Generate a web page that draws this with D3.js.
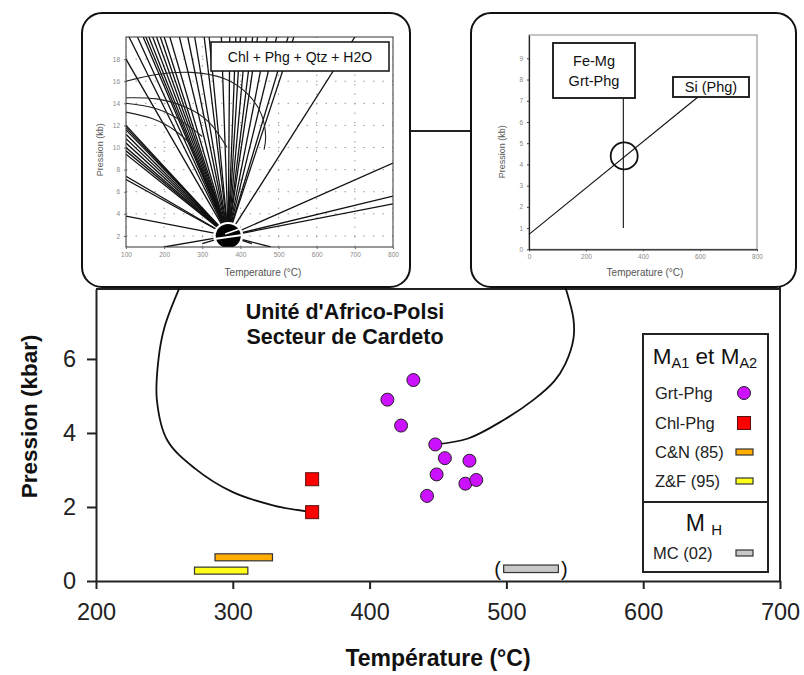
<!DOCTYPE html>
<html><head><meta charset="utf-8">
<script src="https://cdn.jsdelivr.net/npm/d3@7"></script>
<style>body{margin:0;background:#fff;} text{font-family:"Liberation Sans",Arial,Helvetica,sans-serif;}</style>
</head><body><svg id="c" width="804" height="675"></svg>
<script>
// ---------- main chart data ----------
const xTicks = [200, 300, 400, 500, 600, 700];
const yTicks = [0, 2, 4, 6];
const chlPhgT = [358, 358];
const chlPhgP = [2.75, 1.86];
const grtPhgT = [432, 413, 423, 448, 455, 473, 449, 470, 478, 442];
const grtPhgP = [5.43, 4.90, 4.20, 3.69, 3.32, 3.25, 2.88, 2.63, 2.73, 2.30];
const barNames = ["C&N (85)", "Z&F (95)", "MC (02)"];
const barTmin = [287, 272, 498];
const barTmax = [329, 311, 538];
const barP = [0.64, 0.28, 0.33];
const titleLines = ["Unité d'Africo-Polsi", "Secteur de Cardeto"];
// callout curves (T, P) linking insets to data points
const leftCurveT = [261, 250, 245.6, 244.5, 252, 272, 300, 330, 358];
const leftCurveP = [7.92, 6.85, 5.97, 4.89, 3.81, 3.05, 2.40, 2.04, 1.86];
const rightCurveT = [448, 472, 498, 520, 535, 543, 549, 549, 543];
const rightCurveP = [3.69, 3.85, 4.35, 4.90, 5.40, 5.86, 6.54, 7.08, 7.95];

// ---------- left inset data ----------
const in1TicksX = [100, 200, 300, 400, 500, 600, 700, 800];
const in1TicksY = [2, 4, 6, 8, 10, 12, 14, 16, 18];
const rayOrigin = [368, 2];
const rayEndT = [100, 100, 100, 100, 100, 100, 100, 100, 100, 100, 100, 100, 100,
  108, 130, 145, 152, 160, 170, 180, 190, 200, 215, 240, 262, 280, 305, 318,
  350, 372, 388, 400, 415, 432, 445, 470, 495, 525, 540, 700,
  800, 800, 800, 200, 300, 480, 430];
const rayEndP = [18, 12, 11.8, 11.6, 11.2, 10.8, 10.4, 10.0, 9.7, 9.4, 7.4, 7.1, 3.8,
  20, 20, 20, 20, 20, 20, 20, 20, 20, 20, 20, 20, 20, 20, 20,
  20, 20, 20, 20, 20, 20, 20, 20, 20, 20, 20, 20,
  8.6, 5.6, 4.9, 1, 1.3, 1, 1.3];
const arc1T = [100, 180, 270, 360, 420, 455, 466, 462];
const arc1P = [16, 16.6, 16.8, 16.2, 14.8, 13, 11, 9.8];
const arc2T = [100, 180, 260, 320, 365];
const arc2P = [14.5, 14.4, 13.6, 12.2, 10];
const arc3T = [100, 180, 250, 300];
const arc3P = [14, 13.5, 12.3, 11];
const arc4T = [100, 170, 230, 270];
const arc4P = [13.2, 12.6, 11.5, 10.3];
const in1Label = "Chl + Phg + Qtz + H2O";

// ---------- right inset data ----------
const in2TicksX = [0, 200, 400, 600, 800];
const in2TicksY = [0, 1, 2, 3, 4, 5, 6, 7, 8, 9];
const siT = [0, 595];
const siP = [0.7, 7.2];
const feMgT = [331, 331];
const feMgP = [1, 7.1];
const crossT = 334, crossP = 4.4;

const FONT = '"Liberation Sans",Arial,Helvetica,sans-serif';
const svg = d3.select("#c");
const x = d3.scaleLinear().domain([200, 700]).range([96, 780]);
const y = d3.scaleLinear().domain([0, 7.89]).range([581, 289]);

// ---------- main frame & axes ----------
svg.append("line").attr("x1", x(200)).attr("x2", x(700)).attr("y1", y(7.89)).attr("y2", y(7.89)).attr("stroke", "#222").attr("stroke-width", 2);
svg.append("line").attr("x1", x(700)).attr("x2", x(700)).attr("y1", 286).attr("y2", y(0)).attr("stroke", "#222").attr("stroke-width", 2);

const gx = svg.append("g").attr("transform", `translate(0,${y(0)})`)
  .call(d3.axisBottom(x).tickValues(xTicks).tickSize(8).tickSizeOuter(0).tickPadding(14));
const gy = svg.append("g").attr("transform", `translate(${x(200)},0)`)
  .call(d3.axisLeft(y).tickValues(yTicks).tickSize(9).tickSizeOuter(0).tickPadding(11));
[gx, gy].forEach(g => {
  g.select(".domain").attr("stroke", "#222").attr("stroke-width", 2);
  g.selectAll(".tick line").attr("stroke", "#222").attr("stroke-width", 2);
  g.selectAll(".tick text").attr("font-size", 23.5).attr("font-family", FONT).attr("fill", "#222");
});
svg.append("text").attr("x", (x(200) + x(700)) / 2).attr("y", 666).attr("text-anchor", "middle")
  .attr("font-size", 23).attr("font-weight", "bold").attr("fill", "#111").text("Température (°C)");
svg.append("text").attr("transform", `translate(37,${y(4.45)}) rotate(-90)`).attr("text-anchor", "middle")
  .attr("font-size", 22.5).attr("font-weight", "bold").attr("fill", "#111").text("Pression (kbar)");

// title
titleLines.forEach((t, i) => svg.append("text").attr("x", 345).attr("y", 319 + i * 25).attr("text-anchor", "middle")
  .attr("font-size", 21.5).attr("font-weight", "bold").attr("fill", "#111").text(t));

// ---------- curves ----------
const curveLine = d3.line().x(d => x(d[0])).y(d => y(d[1])).curve(d3.curveCatmullRom);
svg.append("path").attr("d", curveLine(leftCurveT.map((t, i) => [t, leftCurveP[i]])))
  .attr("fill", "none").attr("stroke", "#111").attr("stroke-width", 1.8);
svg.append("path").attr("d", curveLine(rightCurveT.map((t, i) => [t, rightCurveP[i]])))
  .attr("fill", "none").attr("stroke", "#111").attr("stroke-width", 1.8);

// ---------- bars ----------
const barColors = ["#ffad00", "#ffff1a", "#c8c8c8"];
const barH = [7, 7, 7.5];
barNames.forEach((n, i) => {
  svg.append("rect").attr("x", x(barTmin[i])).attr("y", y(barP[i]) - barH[i] / 2)
    .attr("width", x(barTmax[i]) - x(barTmin[i])).attr("height", barH[i])
    .attr("fill", barColors[i]).attr("stroke", "#333").attr("stroke-width", 1.2);
});
svg.append("text").attr("x", x(barTmin[2]) - 6).attr("y", y(barP[2]) + 7).attr("text-anchor", "middle").attr("font-size", 20).attr("fill", "#111").text("(");
svg.append("text").attr("x", x(barTmax[2]) + 6).attr("y", y(barP[2]) + 7).attr("text-anchor", "middle").attr("font-size", 20).attr("fill", "#111").text(")");

// ---------- points ----------
svg.selectAll(".sq").data(chlPhgT.map((t, i) => [t, chlPhgP[i]])).join("rect")
  .attr("x", d => x(d[0]) - 6.5).attr("y", d => y(d[1]) - 6.5).attr("width", 13).attr("height", 13)
  .attr("fill", "#ff0000").attr("stroke", "#551111").attr("stroke-width", 1);
svg.selectAll(".ci").data(grtPhgT.map((t, i) => [t, grtPhgP[i]])).join("circle")
  .attr("cx", d => x(d[0])).attr("cy", d => y(d[1])).attr("r", 6.5)
  .attr("fill", "#cc11ff").attr("stroke", "#222").attr("stroke-width", 1);

// ---------- legend ----------
const lg = svg.append("g");
lg.append("rect").attr("x", 643).attr("y", 334).attr("width", 125).attr("height", 238).attr("fill", "#fff").attr("stroke", "#222").attr("stroke-width", 2);
lg.append("line").attr("x1", 643).attr("x2", 768).attr("y1", 502).attr("y2", 502).attr("stroke", "#222").attr("stroke-width", 2);
const t1 = lg.append("text").attr("x", 705).attr("y", 364).attr("text-anchor", "middle").attr("font-size", 22.5).attr("fill", "#111");
t1.append("tspan").text("M");
t1.append("tspan").attr("font-size", 14.5).attr("dy", 4).text("A1");
t1.append("tspan").attr("dy", -4).text(" et M");
t1.append("tspan").attr("font-size", 14.5).attr("dy", 4).text("A2");
const t2 = lg.append("text").attr("x", 704).attr("y", 531).attr("text-anchor", "middle").attr("font-size", 23).attr("fill", "#111");
t2.append("tspan").text("M ");
t2.append("tspan").attr("font-size", 15).attr("dy", 4).text("H");
const legItems = ["Grt-Phg", "Chl-Phg", barNames[0], barNames[1]];
const legY = [399, 429, 458, 487];
legItems.forEach((s, i) => lg.append("text").attr("x", 655).attr("y", legY[i]).attr("font-size", 16.5).attr("fill", "#222").text(s));
lg.append("text").attr("x", 653).attr("y", 559).attr("font-size", 16.5).attr("fill", "#222").text(barNames[2]);
lg.append("circle").attr("cx", 744).attr("cy", legY[0] - 6).attr("r", 6.5).attr("fill", "#cc11ff").attr("stroke", "#222");
lg.append("rect").attr("x", 737.5).attr("y", legY[1] - 12.5).attr("width", 13).attr("height", 13).attr("fill", "#ff0000").attr("stroke", "#551111");
[legY[2], legY[3], 559].forEach((yy, i) => lg.append("rect").attr("x", 736).attr("y", yy - 9).attr("width", 17).attr("height", 6)
  .attr("fill", barColors[i]).attr("stroke", "#333").attr("stroke-width", 1.2));

// ---------- connector between insets ----------
svg.append("line").attr("x1", 410).attr("x2", 471).attr("y1", 131).attr("y2", 131).attr("stroke", "#222").attr("stroke-width", 2);

// ---------- left inset ----------
const ix1 = d3.scaleLinear().domain([100, 800]).range([126, 393]);
const iy1 = d3.scaleLinear().domain([1, 20]).range([247, 37]);
const L = svg.append("g");
L.append("rect").attr("x", 82).attr("y", 13).attr("width", 328).attr("height", 274).attr("rx", 20)
  .attr("fill", "#fff").attr("stroke", "#111").attr("stroke-width", 2);
L.append("clipPath").attr("id", "clip1").append("rect").attr("x", ix1(100)).attr("y", iy1(20)).attr("width", ix1(800) - ix1(100)).attr("height", iy1(1) - iy1(20));
const P1 = L.append("g").attr("clip-path", "url(#clip1)");
in1TicksY.forEach(p => P1.append("line").attr("x1", ix1(100)).attr("x2", ix1(800)).attr("y1", iy1(p)).attr("y2", iy1(p)).attr("stroke", "#999").attr("stroke-dasharray", "1.5,8"));
in1TicksX.forEach(t => P1.append("line").attr("x1", ix1(t)).attr("x2", ix1(t)).attr("y1", iy1(1)).attr("y2", iy1(20)).attr("stroke", "#999").attr("stroke-dasharray", "1.5,8"));
rayEndT.forEach((t, i) => P1.append("line").attr("x1", ix1(rayOrigin[0])).attr("y1", iy1(rayOrigin[1])).attr("x2", ix1(t)).attr("y2", iy1(rayEndP[i]))
  .attr("stroke", "#111").attr("stroke-width", 1.3));
const arcLine = d3.line().x(d => ix1(d[0])).y(d => iy1(d[1])).curve(d3.curveNatural);
[[arc1T, arc1P], [arc2T, arc2P], [arc3T, arc3P], [arc4T, arc4P]].forEach(a =>
  P1.append("path").attr("d", arcLine(a[0].map((t, i) => [t, a[1][i]]))).attr("fill", "none").attr("stroke", "#222").attr("stroke-width", 1.1));
// dense knot at the invariant point
P1.append("ellipse").attr("cx", ix1(rayOrigin[0])).attr("cy", iy1(rayOrigin[1])).attr("rx", 15).attr("ry", 14).attr("fill", "#fff");
P1.append("ellipse").attr("cx", ix1(rayOrigin[0])).attr("cy", iy1(rayOrigin[1])).attr("rx", 12.5).attr("ry", 12).attr("fill", "#000");
P1.append("line").attr("x1", ix1(rayOrigin[0]) - 14).attr("x2", ix1(rayOrigin[0]) + 14).attr("y1", iy1(rayOrigin[1]) + 3).attr("y2", iy1(rayOrigin[1]) - 1).attr("stroke", "#fff").attr("stroke-width", 2);
P1.append("line").attr("x1", ix1(rayOrigin[0]) - 3).attr("x2", ix1(rayOrigin[0]) + 14).attr("y1", iy1(rayOrigin[1]) - 2).attr("y2", iy1(rayOrigin[1]) - 8).attr("stroke", "#fff").attr("stroke-width", 1.5);
L.append("rect").attr("x", ix1(100)).attr("y", iy1(20)).attr("width", ix1(800) - ix1(100)).attr("height", iy1(1) - iy1(20)).attr("fill", "none").attr("stroke", "#333").attr("stroke-width", 1);
const a1x = L.append("g").attr("transform", `translate(0,${iy1(1)})`).call(d3.axisBottom(ix1).tickValues(in1TicksX).tickSize(2).tickPadding(3));
const a1y = L.append("g").attr("transform", `translate(${ix1(100)},0)`).call(d3.axisLeft(iy1).tickValues(in1TicksY).tickSize(2).tickPadding(4));
[a1x, a1y].forEach(g => { g.select(".domain").remove(); g.selectAll(".tick line").attr("stroke", "#666");
  g.selectAll(".tick text").attr("font-size", 6.5).attr("fill", "#888").attr("font-family", FONT); });
L.append("text").attr("x", 263).attr("y", 276).attr("text-anchor", "middle").attr("font-size", 10).attr("fill", "#555").text("Temperature (°C)");
L.append("text").attr("transform", `translate(103,${iy1(9.8)}) rotate(-90)`).attr("text-anchor", "middle").attr("font-size", 9).attr("fill", "#555").text("Pression (kb)");
L.append("rect").attr("x", 211).attr("y", 42).attr("width", 178).attr("height", 29).attr("fill", "#fff").attr("stroke", "#111").attr("stroke-width", 1.5);
L.append("text").attr("x", 300).attr("y", 62).attr("text-anchor", "middle").attr("font-size", 14).attr("fill", "#111").text(in1Label);

// ---------- right inset ----------
const ix2 = d3.scaleLinear().domain([0, 800]).range([529, 757]);
const iy2 = d3.scaleLinear().domain([0, 10.1]).range([249.3, 35]);
const R = svg.append("g");
R.append("rect").attr("x", 471).attr("y", 13).attr("width", 325).attr("height", 274).attr("rx", 20)
  .attr("fill", "#fff").attr("stroke", "#111").attr("stroke-width", 2);
R.append("rect").attr("x", ix2(0)).attr("y", iy2(10.1)).attr("width", ix2(800) - ix2(0)).attr("height", iy2(0) - iy2(10.1)).attr("fill", "none").attr("stroke", "#888").attr("stroke-width", 1);
const a2x = R.append("g").attr("transform", `translate(0,${iy2(0)})`).call(d3.axisBottom(ix2).tickValues(in2TicksX).tickSize(2).tickSizeOuter(0).tickPadding(3));
const a2y = R.append("g").attr("transform", `translate(${ix2(0)},0)`).call(d3.axisLeft(iy2).tickValues(in2TicksY).tickSize(2).tickSizeOuter(0).tickPadding(4));
[a2x, a2y].forEach(g => { g.select(".domain").attr("stroke", "#222").attr("stroke-width", 1.2); g.selectAll(".tick line").attr("stroke", "#444");
  g.selectAll(".tick text").attr("font-size", 6.5).attr("fill", "#888").attr("font-family", FONT); });
R.append("text").attr("x", 645).attr("y", 276).attr("text-anchor", "middle").attr("font-size", 10).attr("fill", "#555").text("Temperature (°C)");
R.append("text").attr("transform", `translate(505,${iy2(4.6)}) rotate(-90)`).attr("text-anchor", "middle").attr("font-size", 9).attr("fill", "#555").text("Pression (kb)");
R.append("line").attr("x1", ix2(siT[0])).attr("y1", iy2(siP[0])).attr("x2", ix2(siT[1])).attr("y2", iy2(siP[1])).attr("stroke", "#111").attr("stroke-width", 1.1);
R.append("line").attr("x1", ix2(feMgT[0])).attr("y1", iy2(feMgP[0])).attr("x2", ix2(feMgT[1])).attr("y2", iy2(feMgP[1])).attr("stroke", "#111").attr("stroke-width", 1.1);
R.append("circle").attr("cx", ix2(crossT)).attr("cy", iy2(crossP)).attr("r", 13.5).attr("fill", "none").attr("stroke", "#111").attr("stroke-width", 1.8);
R.append("rect").attr("x", 553).attr("y", 43).attr("width", 82).attr("height", 55).attr("fill", "#fff").attr("stroke", "#111").attr("stroke-width", 1.8);
R.append("text").attr("x", 594).attr("y", 66).attr("text-anchor", "middle").attr("font-size", 14.5).attr("fill", "#111").text("Fe-Mg");
R.append("text").attr("x", 594).attr("y", 86).attr("text-anchor", "middle").attr("font-size", 14.5).attr("fill", "#111").text("Grt-Phg");
R.append("rect").attr("x", 673).attr("y", 77).attr("width", 76).attr("height", 20).attr("fill", "#fff").attr("stroke", "#111").attr("stroke-width", 1.8);
R.append("text").attr("x", 711).attr("y", 92).attr("text-anchor", "middle").attr("font-size", 14.5).attr("fill", "#111").text("Si (Phg)");
</script></body></html>
